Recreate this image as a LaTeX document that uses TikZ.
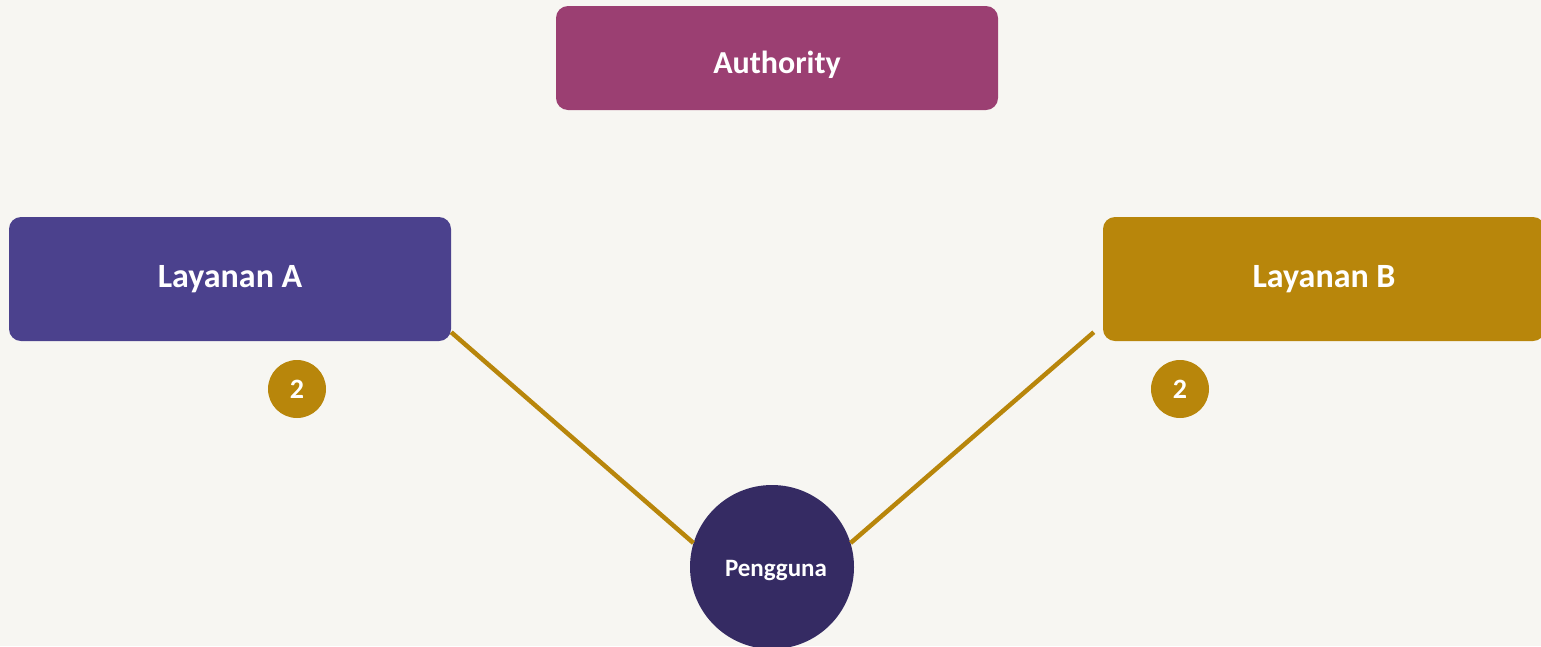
\documentclass[tikz,border=0pt]{standalone}
\usepackage{fontspec}
\setmainfont{Carlito}
\definecolor{bg}{HTML}{F7F6F2}
\definecolor{authc}{HTML}{9B3F72}
\definecolor{lac}{HTML}{4B418D}
\definecolor{lbc}{HTML}{B8860B}
\definecolor{pgc}{HTML}{352B63}
\definecolor{linec}{HTML}{B8860B}
\tikzset{
  boxnode/.style={rounded corners=12pt, inner sep=0pt, text=white, font=\bfseries},
  badge/.style={circle, fill=lbc, minimum size=58pt, inner sep=0pt, text=white, font=\bfseries\fontsize{28}{30}\selectfont},
  conn/.style={draw=linec, line width=4.5pt}
}
\begin{document}
\begin{tikzpicture}[x=1pt,y=-1pt]
\useasboundingbox (0,0) rectangle (1541,646);
\fill[bg] (0,0) rectangle (1541,646);
\node[boxnode, fill=authc, minimum width=442pt, minimum height=104pt, text height=38pt, text depth=7pt, font=\bfseries\fontsize{32}{34}\selectfont] (auth) at (777,58) {Authority};
\node[boxnode, fill=lac, minimum width=442pt, minimum height=124pt, font=\bfseries\fontsize{34}{36}\selectfont] (la) at (230,279) {Layanan A};
\node[boxnode, fill=lbc, minimum width=442pt, minimum height=124pt, font=\bfseries\fontsize{34}{36}\selectfont] (lb) at (1324,279) {Layanan B};
\node[circle, fill=pgc, minimum size=164pt, inner sep=0pt, text height=24pt, text depth=5pt, text=white, font=\bfseries\fontsize{25}{27}\selectfont] (pg) at (772,567) {\hspace*{8pt}Pengguna};
\node[badge] (ba) at (297,389) {2};
\node[badge] (bb) at (1180,389) {2};
\draw[conn] ([yshift=9pt]la.south east) -- (pg.163);
\draw[conn] ([xshift=-9pt,yshift=9pt]lb.south west) -- (pg.17);
\end{tikzpicture}
\end{document}
